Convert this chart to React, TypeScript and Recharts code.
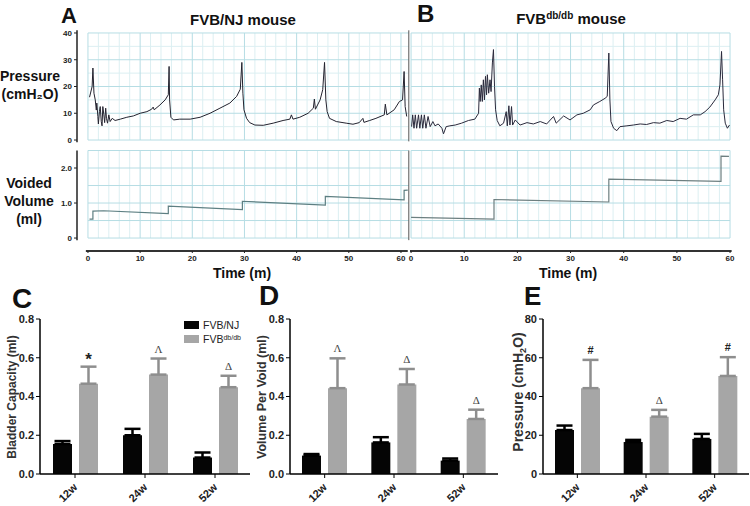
import React from 'react';
import { LineChart, Line, XAxis, YAxis, ReferenceLine, BarChart, Bar, ErrorBar, LabelList } from 'recharts';

const W = 750;
const H = 506;

// cystometry traces, [time (min), value]
const wtPressureTrace: [number, number][] = [
  [0.3, 16.0], [0.8, 20.0], [0.95, 26.9], [1.15, 17.5], [1.4, 15.0], [1.6, 11.2], [1.7, 13.8], [1.9, 8.8],
  [2.0, 6.0], [2.2, 10.6], [2.35, 12.5], [2.55, 6.9], [2.7, 5.3], [2.85, 12.5], [3.05, 9.4], [3.2, 6.5],
  [3.4, 11.9], [3.55, 8.1], [3.75, 6.3], [4.0, 9.4], [4.25, 6.9], [4.65, 8.1], [5.2, 7.3], [6.2, 7.8],
  [7.45, 8.5], [8.7, 9.0], [10.0, 10.0], [11.3, 10.6], [12.2, 11.5], [12.5, 12.3], [12.7, 11.3], [13.8, 13.1],
  [14.8, 15.0], [15.4, 16.9], [15.55, 27.5], [15.65, 15.0], [15.9, 8.5], [16.4, 7.5], [17.6, 7.8], [19.6, 7.8],
  [21.5, 8.5], [23.4, 10.0], [25.3, 11.9], [27.2, 13.8], [28.5, 16.3], [29.2, 19.0], [29.5, 29.0], [29.7, 17.5],
  [29.9, 11.3], [30.4, 8.1], [31.0, 6.5], [32.0, 5.6], [33.6, 5.5], [35.5, 6.3], [37.4, 7.3], [38.7, 7.8],
  [39.0, 9.4], [39.3, 7.8], [40.6, 8.5], [42.2, 10.0], [43.2, 11.9], [43.4, 15.3], [43.6, 11.5], [44.5, 15.0],
  [45.0, 18.8], [45.35, 29.0], [45.6, 15.0], [45.85, 10.6], [46.3, 8.1], [47.6, 6.9], [49.5, 6.3], [50.8, 5.9],
  [52.0, 6.5], [52.7, 8.1], [52.9, 6.6], [54.0, 7.3], [55.2, 8.1], [56.8, 9.4], [57.0, 13.4], [57.3, 9.4],
  [58.7, 11.3], [59.7, 14.4], [60.3, 15.0], [60.6, 25.6], [60.8, 12.5], [61.1, 8.8],
];

const dbPressureTrace: [number, number][] = [
  [0.1, 5.0], [0.3, 9.4], [0.55, 4.4], [0.8, 9.4], [1.05, 4.4], [1.4, 9.4], [1.65, 4.4], [1.95, 9.4],
  [2.2, 4.4], [2.5, 9.4], [2.8, 4.4], [3.2, 8.8], [3.6, 5.0], [4.1, 6.9], [4.5, 5.3], [5.1, 6.0],
  [5.8, 4.4], [6.1, 2.3], [6.6, 5.0], [7.3, 5.3], [8.3, 5.6], [9.5, 6.3], [10.8, 7.3], [12.0, 7.8],
  [12.7, 10.0], [12.85, 19.4], [13.0, 14.4], [13.2, 20.6], [13.4, 14.4], [13.6, 22.5], [13.8, 15.0], [14.0, 23.8],
  [14.2, 16.9], [14.35, 24.4], [14.6, 17.5], [14.85, 22.5], [15.05, 18.1], [15.3, 28.8], [15.5, 33.8], [15.7, 20.0],
  [15.9, 11.3], [16.2, 7.3], [16.7, 5.3], [17.4, 6.3], [17.9, 10.6], [18.1, 5.3], [18.4, 12.8], [18.6, 5.6],
  [18.9, 12.5], [19.1, 5.6], [19.6, 7.5], [20.5, 5.6], [21.8, 6.5], [23.0, 6.0], [24.3, 6.9], [25.5, 6.0],
  [26.8, 8.8], [27.3, 6.3], [28.7, 9.0], [29.9, 7.5], [31.2, 9.4], [32.4, 10.0], [33.7, 11.3], [34.3, 13.1],
  [35.5, 14.4], [36.5, 15.6], [36.9, 16.3], [37.2, 32.5], [37.4, 15.0], [37.6, 6.9], [38.1, 4.4], [38.7, 3.5],
  [39.3, 5.0], [40.6, 5.3], [41.8, 5.6], [43.1, 6.0], [44.3, 5.8], [45.6, 6.5], [46.8, 6.3], [48.1, 7.3],
  [49.3, 6.9], [50.6, 8.1], [51.8, 7.8], [53.1, 9.4], [54.4, 9.4], [55.3, 10.6], [56.2, 12.3], [57.2, 15.0],
  [57.8, 16.9], [58.1, 20.6], [58.4, 33.1], [58.6, 22.5], [58.8, 11.3], [59.1, 6.3], [59.5, 4.4], [59.9, 5.6],
];

const wtVolumeTrace: [number, number][] = [
  [0.3, 0.54], [0.95, 0.54], [0.95, 0.77], [3, 0.78], [15.4, 0.70], [15.4, 0.91], [29.6, 0.81], [29.6, 1.05],
  [45.5, 0.94], [45.5, 1.19], [60.6, 1.09], [60.6, 1.36], [61.3, 1.37],
];

const dbVolumeTrace: [number, number][] = [
  [0, 0.59], [15.6, 0.54], [15.6, 1.10], [37.2, 1.03], [37.2, 1.68], [58.3, 1.62], [58.3, 2.34], [59.8, 2.33],
];

const timeTicks = [0, 10, 20, 30, 40, 50, 60];
const minorTimes = [2, 4, 6, 8, 12, 14, 16, 18, 22, 24, 26, 28, 32, 34, 36, 38, 42, 44, 46, 48, 52, 54, 56, 58];
const pressureTicks = [0, 10, 20, 30, 40];
const pressureMinor = [5, 15, 25, 35];
const volumeTicks = [0, 1, 2];
const volumeGrid = [0, 0.5, 1, 1.5, 2, 2.5];

// bar panels
const ages = ['12w', '24w', '52w'];
const capacityWT = [0.155, 0.2, 0.085];
const capacityWTErr = [0.015, 0.033, 0.026];
const capacityDB = [0.466, 0.513, 0.448];
const capacityDBErr = [0.088, 0.083, 0.059];
const capacityMarks = ['*', 'Λ', 'Δ'];

const voidWT = [0.095, 0.163, 0.069];
const voidWTErr = [0.008, 0.027, 0.011];
const voidDB = [0.443, 0.462, 0.284];
const voidDBErr = [0.154, 0.08, 0.048];
const voidMarks = ['Λ', 'Δ', 'Δ'];

const pressureWT = [22.7, 16.5, 18.1];
const pressureWTErr = [2.3, 1.1, 2.6];
const pressureDB = [44.3, 29.6, 50.6];
const pressureDBErr = [14.6, 3.5, 9.7];
const pressureMarks = ['#', 'Δ', '#'];

const ARIAL = "'Liberation Sans', Arial, sans-serif";
const GRID_MAJOR = '#b6dde4';
const GRID_MINOR = '#dceff2';

const toRows = (trace: [number, number][]) => trace.map(([t, v]) => ({ t, v }));

const gridLines = (xMax: number, yMax: number, hMajor: number[], hMinor: number[]) => [
  ...minorTimes.map((t) => (
    <ReferenceLine key={'vm' + t} segment={[{ x: t, y: 0 }, { x: t, y: yMax }]} stroke={GRID_MINOR} strokeWidth={1} />
  )),
  ...hMinor.map((v) => (
    <ReferenceLine key={'hm' + v} segment={[{ x: 0, y: v }, { x: xMax, y: v }]} stroke={GRID_MINOR} strokeWidth={1} />
  )),
  ...timeTicks.map((t) => (
    <ReferenceLine key={'vM' + t} segment={[{ x: t, y: 0 }, { x: t, y: yMax }]} stroke={GRID_MAJOR} strokeWidth={1} />
  )),
  ...hMajor.map((v) => (
    <ReferenceLine key={'hM' + v} segment={[{ x: 0, y: v }, { x: xMax, y: v }]} stroke={GRID_MAJOR} strokeWidth={1} />
  )),
];

const smallTick = { fontSize: 8, fontWeight: 'bold', fill: '#222', fontFamily: ARIAL };
const layer: React.CSSProperties = { position: 'absolute', left: 0, top: 0 };

const CatTick = (props: any) => {
  const { x, y, payload } = props;
  const ax = x + 3;
  const ay = y + 8;
  return (
    <text x={ax} y={ay} textAnchor="end" transform={`rotate(-45, ${ax}, ${ay})`}
      fontSize={11} fontWeight="bold" fill="#222" fontFamily={ARIAL}>
      {payload.value}
    </text>
  );
};

const markLabel = (marks: string[], errs: number[]) => (props: any) => {
  const { x, y, width, height, value, index } = props;
  const ppu = value ? height / value : 0;
  const capY = y - errs[index] * ppu;
  const m = marks[index];
  const serif = m === 'Λ' || m === 'Δ';
  return (
    <text x={x + width / 2} y={capY - (m === '*' ? 2 : 6)} textAnchor="middle"
      fontSize={m === '*' ? 17 : 11} fontWeight={serif ? 'normal' : 'bold'}
      fill={serif ? '#444' : '#222'}
      fontFamily={serif ? "'Liberation Serif', serif" : ARIAL}>
      {m}
    </text>
  );
};

type BarPanelProps = {
  wt: number[]; wtErr: number[]; db: number[]; dbErr: number[]; marks: string[];
  left: number; right: number; max: number; ticks: number[]; fmt: (v: number) => string;
};

const BarPanel = ({ wt, wtErr, db, dbErr, marks, left, right, max, ticks, fmt }: BarPanelProps) => {
  const rows = ages.map((age, i) => ({
    age,
    wt: wt[i],
    wtErr: [0, wtErr[i]],
    db: db[i],
    dbErr: [0, dbErr[i]],
  }));
  return (
    <div style={layer}>
      <BarChart width={W} height={H} data={rows} barSize={19} barGap={7}
        margin={{ top: 319, bottom: H - 474 - 30, left: left - 32, right: W - right }}>
        <XAxis dataKey="age" height={30} tick={<CatTick />} tickSize={4} interval={0}
          axisLine={{ stroke: '#000', strokeWidth: 1.5 }} tickLine={{ stroke: '#000' }} />
        <YAxis type="number" domain={[0, max]} ticks={ticks} width={32} tickSize={4} interval={0}
          tickFormatter={fmt} axisLine={{ stroke: '#000', strokeWidth: 1.5 }} tickLine={{ stroke: '#000' }}
          tick={{ fontSize: 11, fontWeight: 'bold', fill: '#222', fontFamily: ARIAL }} />
        <Bar dataKey="wt" fill="#050505" isAnimationActive={false}>
          <ErrorBar dataKey="wtErr" width={8} strokeWidth={2.5} stroke="#000" direction="y" />
        </Bar>
        <Bar dataKey="db" fill="#a6a6a6" isAnimationActive={false}>
          <ErrorBar dataKey="dbErr" width={8} strokeWidth={2.5} stroke="#8e8e8e" direction="y" />
          <LabelList dataKey="db" content={markLabel(marks, dbErr)} />
        </Bar>
      </BarChart>
    </div>
  );
};

export default function App() {
  const aP = toRows(wtPressureTrace);
  const bP = toRows(dbPressureTrace);
  const aV = toRows(wtVolumeTrace);
  const bV = toRows(dbVolumeTrace);

  return (
    <div style={{ position: 'absolute', left: 0, top: 0, width: W, height: H, background: '#fff', overflow: 'hidden' }}>
      {/* A: pressure */}
      <div style={layer}>
        <LineChart width={W} height={H} data={aP} margin={{ top: 30.3, bottom: H - 142.7, left: 47, right: W - 408.8 }}>
          <XAxis type="number" dataKey="t" domain={[-2.1, 61.5]} hide />
          <YAxis type="number" domain={[-1, 41]} ticks={pressureTicks} width={30} interval={0}
            axisLine={false} tickSize={3} tickLine={{ stroke: '#222' }} tick={smallTick} />
          {gridLines(61.5, 40, pressureTicks, pressureMinor)}
          <ReferenceLine segment={[{ x: -2.1, y: -0.8 }, { x: -2.1, y: 41 }]} stroke="#222" strokeWidth={1.5} />
          <ReferenceLine segment={[{ x: 61.5, y: -0.5 }, { x: 61.5, y: 41 }]} stroke="#555" strokeWidth={1} />
          <Line dataKey="v" type="linear" stroke="#23232f" strokeWidth={1} dot={false} isAnimationActive={false} />
        </LineChart>
      </div>
      {/* A: voided volume */}
      <div style={layer}>
        <LineChart width={W} height={H} data={aV} margin={{ top: 150.5, bottom: H - 251 - 14, left: 47, right: W - 408.8 }}>
          <XAxis type="number" dataKey="t" domain={[-2.1, 61.5]} ticks={timeTicks} height={14} interval={0}
            axisLine={false} tickSize={2} tickLine={{ stroke: '#222' }} tick={smallTick} />
          <YAxis type="number" domain={[-0.37, 2.5]} ticks={volumeTicks} width={30} interval={0}
            tickFormatter={(v: number) => (v === 0 ? '0' : v.toFixed(1))}
            axisLine={false} tickSize={3} tickLine={{ stroke: '#222' }} tick={smallTick} />
          {gridLines(61.5, 2.5, volumeGrid, [])}
          <ReferenceLine segment={[{ x: -2.1, y: -0.06 }, { x: -2.1, y: 2.5 }]} stroke="#222" strokeWidth={1.5} />
          <ReferenceLine segment={[{ x: 61.5, y: -0.06 }, { x: 61.5, y: 2.5 }]} stroke="#555" strokeWidth={1} />
          <ReferenceLine segment={[{ x: -0.4, y: -0.37 }, { x: 61.3, y: -0.37 }]} stroke="#333" strokeWidth={2} />
          <Line dataKey="v" type="linear" stroke="#5d7f82" strokeWidth={1.2} dot={false} isAnimationActive={false} />
        </LineChart>
      </div>
      {/* B: pressure */}
      <div style={layer}>
        <LineChart width={W} height={H} data={bP} margin={{ top: 30.3, bottom: H - 142.7, left: 410, right: W - 732.7 }}>
          <XAxis type="number" dataKey="t" domain={[-0.2, 60.5]} hide />
          <YAxis type="number" domain={[-1, 41]} hide />
          {gridLines(60, 40, pressureTicks, pressureMinor)}
          <ReferenceLine segment={[{ x: -0.2, y: -0.8 }, { x: -0.2, y: 41.5 }]} stroke="#111" strokeWidth={2.5} />
          <Line dataKey="v" type="linear" stroke="#2a2a3c" strokeWidth={1} dot={false} isAnimationActive={false} />
        </LineChart>
      </div>
      {/* B: voided volume */}
      <div style={layer}>
        <LineChart width={W} height={H} data={bV} margin={{ top: 150.5, bottom: H - 251 - 14, left: 410, right: W - 732.7 }}>
          <XAxis type="number" dataKey="t" domain={[-0.2, 60.5]} ticks={timeTicks} height={14} interval={0}
            axisLine={false} tickSize={2} tickLine={{ stroke: '#222' }} tick={smallTick} />
          <YAxis type="number" domain={[-0.37, 2.5]} hide />
          {gridLines(60, 2.5, volumeGrid, [])}
          <ReferenceLine segment={[{ x: -0.2, y: -0.06 }, { x: -0.2, y: 2.6 }]} stroke="#111" strokeWidth={2.5} />
          <ReferenceLine segment={[{ x: -0.2, y: -0.37 }, { x: 60.3, y: -0.37 }]} stroke="#333" strokeWidth={2} />
          <Line dataKey="v" type="linear" stroke="#6d7f80" strokeWidth={1.2} dot={false} isAnimationActive={false} />
        </LineChart>
      </div>

      <BarPanel wt={capacityWT} wtErr={capacityWTErr} db={capacityDB} dbErr={capacityDBErr} marks={capacityMarks}
        left={40} right={250} max={0.8} ticks={[0, 0.2, 0.4, 0.6, 0.8]} fmt={(v) => v.toFixed(1)} />
      <BarPanel wt={voidWT} wtErr={voidWTErr} db={voidDB} dbErr={voidDBErr} marks={voidMarks}
        left={290} right={498} max={0.8} ticks={[0, 0.2, 0.4, 0.6, 0.8]} fmt={(v) => v.toFixed(1)} />
      <BarPanel wt={pressureWT} wtErr={pressureWTErr} db={pressureDB} dbErr={pressureDBErr} marks={pressureMarks}
        left={543} right={749} max={80} ticks={[0, 20, 40, 60, 80]} fmt={(v) => String(v)} />

      {/* labels */}
      <svg width={W} height={H} style={{ ...layer, pointerEvents: 'none' }}>
        <g fontFamily={ARIAL} fontWeight="bold" fill="#111">
          <text x={61} y={23} fontSize={22}>A</text>
          <text x={417} y={22} fontSize={24}>B</text>
          <text x={12} y={308} fontSize={28}>C</text>
          <text x={259} y={305} fontSize={28}>D</text>
          <text x={524} y={305} fontSize={26}>E</text>
        </g>
        <g fontFamily={ARIAL} fontWeight="bold" fill="#111" textAnchor="middle">
          <text x={243} y={25} fontSize={15}>FVB/NJ mouse</text>
          <text x={571} y={24} fontSize={15}>
            FVB<tspan fontSize={10} dy={-5}>db/db</tspan><tspan dy={5}> mouse</tspan>
          </text>
          <text x={30} y={81} fontSize={14}>Pressure</text>
          <text x={30} y={99} fontSize={14}>(cmH₂O)</text>
          <text x={29} y={188} fontSize={14}>Voided</text>
          <text x={29} y={206} fontSize={14}>Volume</text>
          <text x={29} y={224} fontSize={14}>(ml)</text>
          <text x={242} y={278} fontSize={14}>Time (m)</text>
          <text x={568} y={278} fontSize={14}>Time (m)</text>
        </g>
        <g fontFamily={ARIAL} fontWeight="bold" fill="#333" textAnchor="middle">
          <text transform="translate(16, 397) rotate(-90)" fontSize={12}>Bladder Capacity (ml)</text>
          <text transform="translate(266, 397) rotate(-90)" fontSize={12.5}>Volume Per Void (ml)</text>
          <text transform="translate(523, 392) rotate(-90)" fontSize={14}>
            Pressure (cmH<tspan fontSize={9} dy={3}>2</tspan><tspan dy={-3}>O)</tspan>
          </text>
        </g>
        <g fontFamily={ARIAL} fill="#222">
          <rect x={184} y={321} width={15} height={8} fill="#050505" />
          <text x={203} y={329} fontSize={10.5}>FVB/NJ</text>
          <rect x={184} y={335} width={15} height={8} fill="#a6a6a6" />
          <text x={203} y={343} fontSize={10.5}>
            FVB<tspan fontSize={7} dy={-3}>db/db</tspan>
          </text>
        </g>
      </svg>
    </div>
  );
}
